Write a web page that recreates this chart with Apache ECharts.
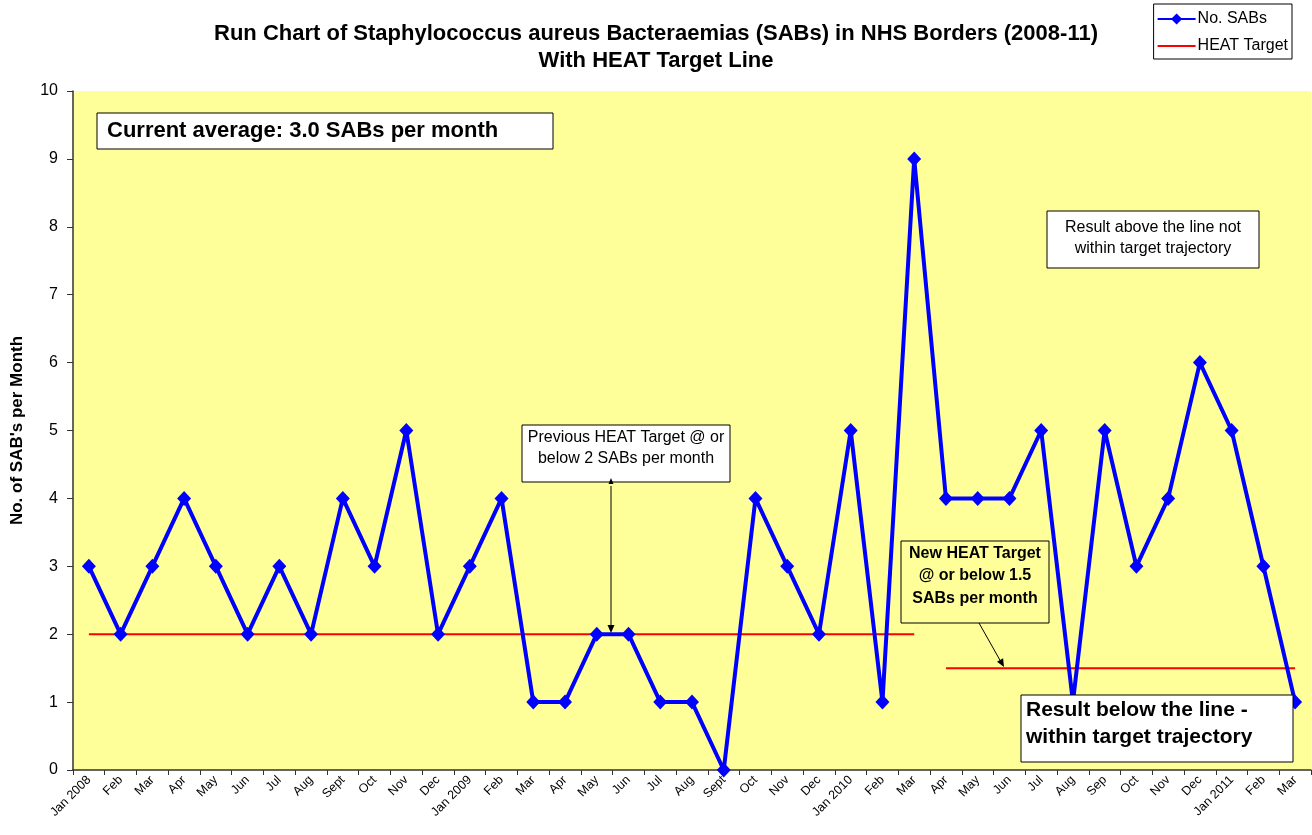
<!DOCTYPE html>
<html>
<head>
<meta charset="utf-8">
<script src="https://cdn.jsdelivr.net/npm/echarts@6/dist/echarts.min.js"></script>
<style>
  html, body { margin: 0; padding: 0; background: #fff; }
  #main { width: 1312px; height: 835px; }
</style>
</head>
<body>
<div id="main"></div>
<script>
// months shown on the x axis
var months = ['Jan 2008', 'Feb', 'Mar', 'Apr', 'May', 'Jun', 'Jul', 'Aug', 'Sept', 'Oct', 'Nov', 'Dec',
	'Jan 2009', 'Feb', 'Mar', 'Apr', 'May', 'Jun', 'Jul', 'Aug', 'Sept', 'Oct', 'Nov', 'Dec',
	'Jan 2010', 'Feb', 'Mar', 'Apr', 'May', 'Jun', 'Jul', 'Aug', 'Sep', 'Oct', 'Nov', 'Dec',
	'Jan 2011', 'Feb', 'Mar'];

// number of SABs per month
var sabs = [3, 2, 3, 4, 3, 2, 3, 2, 4, 3, 5, 2,
	3, 4, 1, 1, 2, 2, 1, 1, 0, 4, 3, 2,
	5, 1, 9, 4, 4, 4, 5, 1, 5, 3, 4, 6,
	5, 3, 1];

// HEAT target, previous (to Mar 2010) and new (from Apr 2010)
var prevTarget = [2, 2, 2, 2, 2, 2, 2, 2, 2, 2, 2, 2,
	2, 2, 2, 2, 2, 2, 2, 2, 2, 2, 2, 2,
	2, 2, 2, '-', '-', '-', '-', '-', '-', '-', '-', '-',
	'-', '-', '-'];
var newTarget = ['-', '-', '-', '-', '-', '-', '-', '-', '-', '-', '-', '-',
	'-', '-', '-', '-', '-', '-', '-', '-', '-', '-', '-', '-',
	'-', '-', '-', 1.5, 1.5, 1.5, 1.5, 1.5, 1.5, 1.5, 1.5, 1.5,
	1.5, 1.5, 1.5];

var yTicks = { min: 0, max: 10, interval: 1 };

var FONT = 'Liberation Sans, Arial, sans-serif';

function box(x, y, w, h, fill) {
	return {
		type : 'rect', z : 100,
		shape : { x : x, y : y, width : w, height : h },
		style : { fill : fill, stroke : '#000', lineWidth : 1 }
	};
}

function label(x, y, text, size, lh, bold, align) {
	return {
		type : 'text', z : 101, x : x, y : y,
		style : {
			text : text, fill : '#000', font : (bold ? 'bold ' : '') + size + 'px ' + FONT,
			align : align, verticalAlign : 'middle', lineHeight : lh
		}
	};
}

var myChart = echarts.init(document.getElementById('main'));

var option = {
	animation : false,
	textStyle : { fontFamily : FONT },
	title : {
		text : 'Run Chart of Staphylococcus aureus Bacteraemias (SABs) in NHS Borders (2008-11)\nWith HEAT Target Line',
		left : 'center',
		top : 15,
		textStyle : { fontSize : 22, fontWeight : 'bold', color : '#000', lineHeight : 27, fontFamily : FONT }
	},
	legend : {
		orient : 'vertical',
		right : 20,
		top : 4,
		itemWidth : 38,
		itemHeight : 14,
		itemGap : 11,
		padding : [7, 4, 5, 3],
		borderColor : '#000',
		borderWidth : 1,
		borderRadius : 0,
		textStyle : { fontSize : 16, color : '#000', padding : [0, 0, 0, -3] },
		data : ['No. SABs', { name : 'HEAT Target', itemStyle : { opacity : 0 } }]
	},
	grid : {
		left : 73, right : 1, top : 91, bottom : 65,
		outerBoundsMode : 'none',
		show : true, backgroundColor : '#FFFF99', borderWidth : 0
	},
	xAxis : {
		type : 'category',
		data : months,
		boundaryGap : true,
		axisLine : { lineStyle : { color : '#333', width : 1.5 } },
		axisTick : { show : true, interval : 0, length : 5, lineStyle : { color : '#333' } },
		axisLabel : { interval : 0, rotate : 45, fontSize : 12.5, color : '#000', margin : 8 }
	},
	yAxis : {
		type : 'value',
		min : yTicks.min, max : yTicks.max, interval : yTicks.interval,
		name : "No. of SAB's per Month",
		nameLocation : 'middle',
		nameGap : 47,
		nameTextStyle : { fontSize : 17, fontWeight : 'bold', color : '#000' },
		axisLine : { show : true, lineStyle : { color : '#333', width : 1.5 } },
		axisTick : { show : true, length : 6, lineStyle : { color : '#333' } },
		axisLabel : { fontSize : 16, color : '#000', margin : 15 },
		splitLine : { show : false }
	},
	series : [ {
		name : 'No. SABs',
		type : 'line',
		data : sabs,
		symbol : 'diamond',
		symbolSize : [14, 15],
		itemStyle : { color : '#0000FF' },
		lineStyle : { color : '#0000FF', width : 4 },
		z : 3
	}, {
		name : 'HEAT Target',
		type : 'line',
		data : prevTarget,
		symbol : 'none',
		itemStyle : { color : '#FF0000' },
		lineStyle : { color : '#FF0000', width : 2 },
		z : 2
	}, {
		name : 'HEAT Target',
		type : 'line',
		data : newTarget,
		symbol : 'none',
		itemStyle : { color : '#FF0000' },
		lineStyle : { color : '#FF0000', width : 2 },
		z : 2
	} ],
	graphic : [
		box(97, 113, 456, 36, '#fff'),
		label(107, 131, 'Current average: 3.0 SABs per month', 22, 26, true, 'left'),

		box(1047, 211, 212, 57, '#fff'),
		label(1153, 238, 'Result above the line not\nwithin target trajectory', 16, 21, false, 'center'),

		box(522, 425, 208, 57, '#fff'),
		label(626, 448, 'Previous HEAT Target @ or\nbelow 2 SABs per month', 16, 21, false, 'center'),
		{ type : 'line', z : 100, shape : { x1 : 611, y1 : 486, x2 : 611, y2 : 627 }, style : { stroke : '#000', lineWidth : 1 } },
		{ type : 'polygon', z : 100, shape : { points : [[611, 478], [608.5, 484], [613.5, 484]] }, style : { fill : '#000' } },
		{ type : 'polygon', z : 100, shape : { points : [[611, 633], [607.5, 625], [614.5, 625]] }, style : { fill : '#000' } },

		box(901, 541, 148, 82, 'rgba(0,0,0,0)'),
		label(975, 576, 'New HEAT Target\n@ or below 1.5\nSABs per month', 16, 22.5, true, 'center'),
		{ type : 'line', z : 100, shape : { x1 : 979, y1 : 623, x2 : 1001, y2 : 662 }, style : { stroke : '#000', lineWidth : 1 } },
		{ type : 'polygon', z : 100, shape : { points : [[1004, 667], [997, 661.8], [1003.1, 658.3]] }, style : { fill : '#000' } },

		box(1021, 695, 272, 67, '#fff'),
		label(1026, 724, 'Result below the line -\nwithin target trajectory', 21, 27, true, 'left')
	]
};

myChart.setOption(option);
</script>
</body>
</html>
